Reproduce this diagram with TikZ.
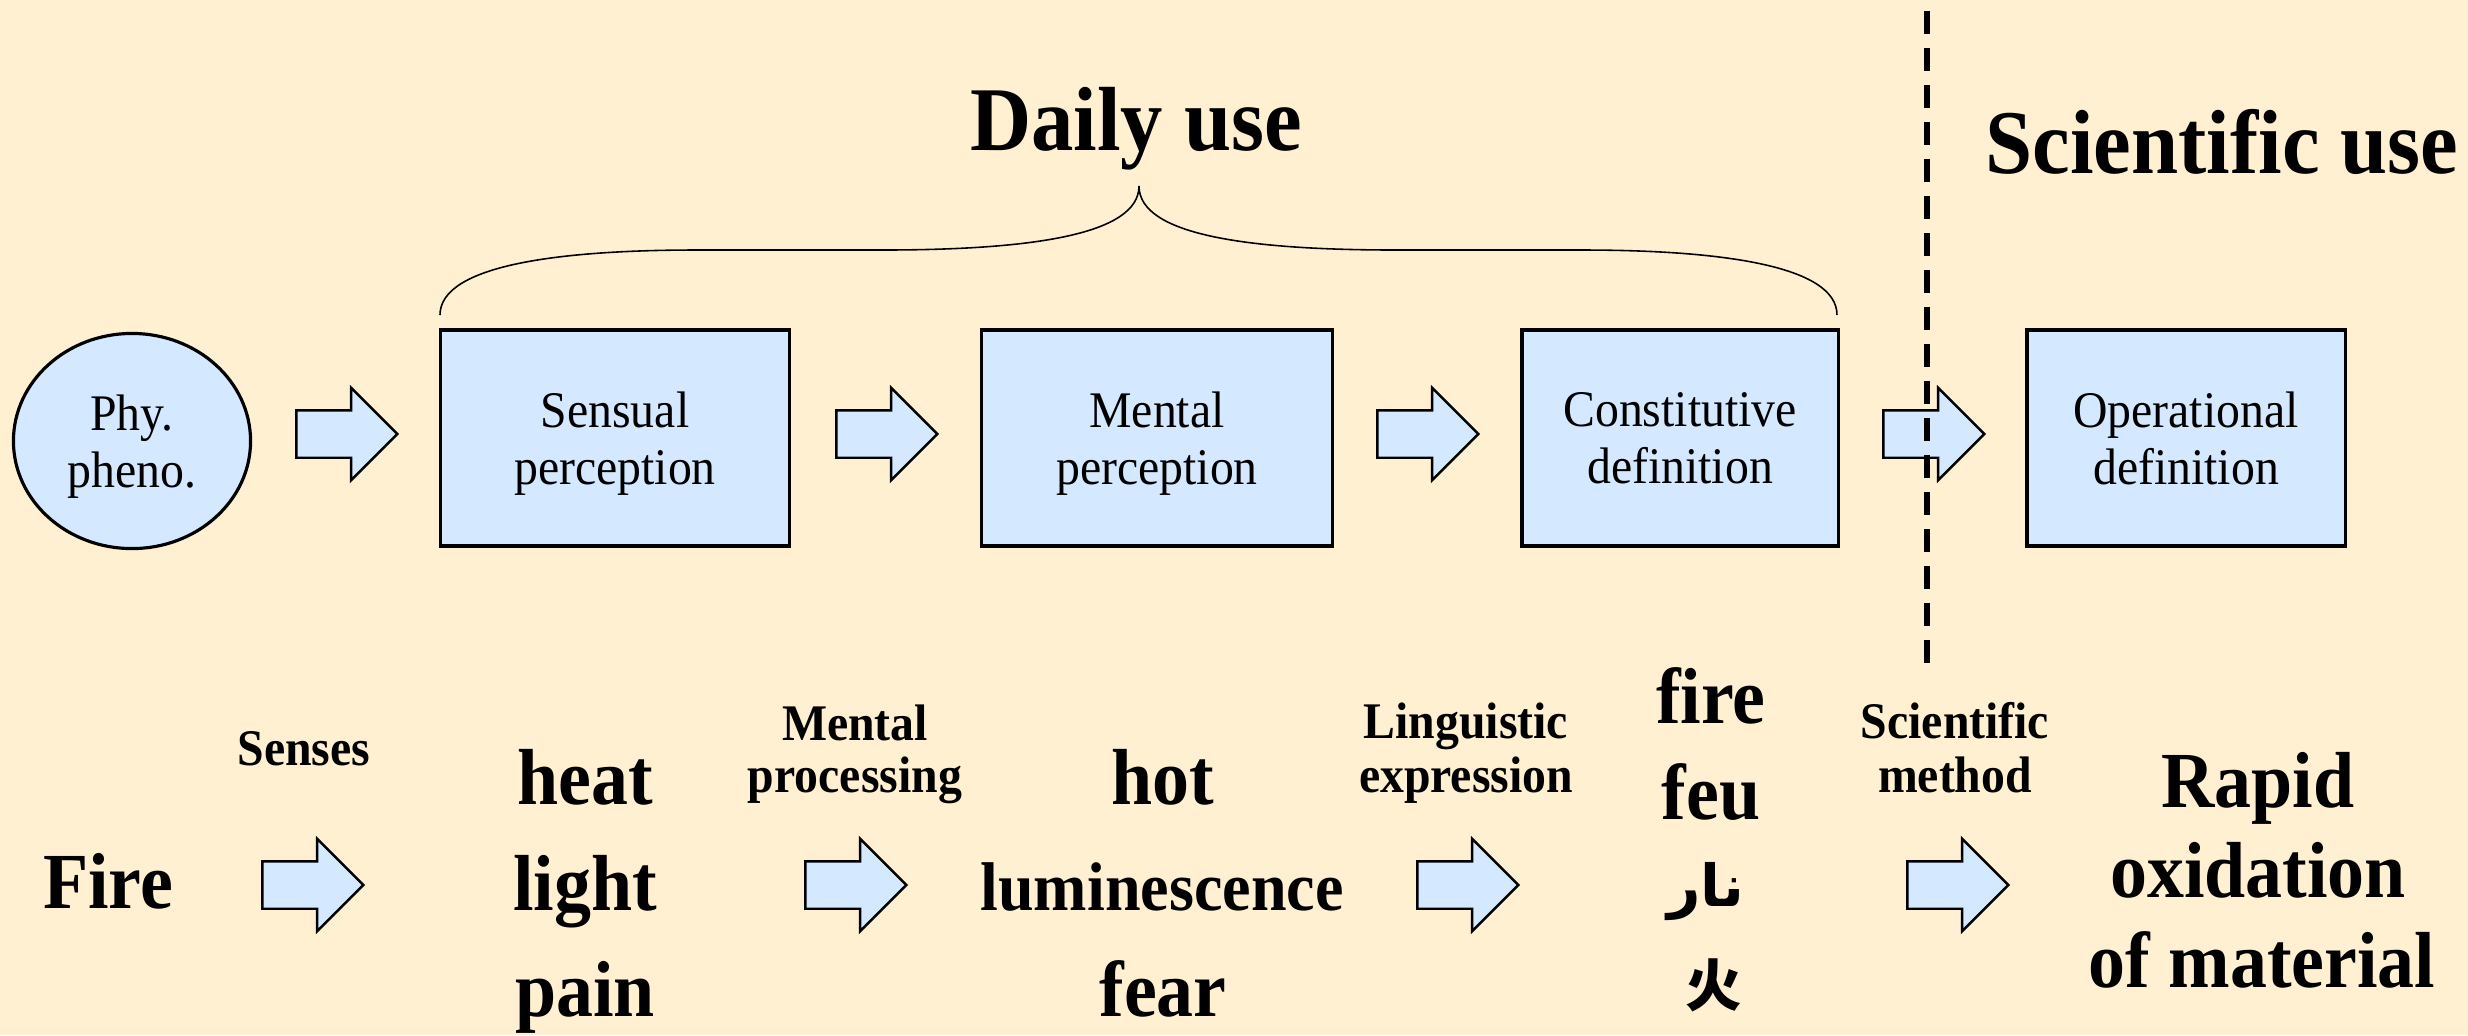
\documentclass[tikz,border=0pt]{standalone}
\usepackage{fontspec}
\setmainfont{Liberation Serif}[FakeStretch=0.93]
\newfontfamily\arabicfont[Script=Arabic]{DejaVu Sans}
\newfontfamily\cjkfont{Noto Sans CJK SC}
\TeXXeTstate=1
\usetikzlibrary{shapes.geometric,shapes.arrows}
\definecolor{bgcream}{RGB}{255,240,210}
\definecolor{boxblue}{RGB}{212,232,255}

\begin{document}
\begin{tikzpicture}
  [x=0.01cm,y=-0.01cm,every node/.style={inner sep=0pt},
   stage/.style={rectangle,draw,line width=0.9pt,fill=boxblue,minimum height=2.16cm,
     align=center,text depth=0pt,font=\fontsize{14.6}{16.2}\selectfont},
   fatarrow/.style={single arrow,draw,line width=0.7pt,fill=boxblue,inner xsep=0pt,inner ysep=0.225cm,
     minimum height=1.01cm,minimum width=0.9cm,single arrow head extend=0.225cm},
   heading/.style={anchor=base,font=\fontsize{25.9}{30}\selectfont\bfseries},
   label/.style={anchor=base,font=\fontsize{14.6}{15}\selectfont\bfseries},
   word/.style={anchor=base,font=\fontsize{22.6}{26}\selectfont\bfseries}]

  \path[use as bounding box,fill=bgcream] (0,0) rectangle (2468,1035);

  % top row
  \node (phen) [ellipse,draw,line width=0.9pt,fill=boxblue,minimum width=2.37cm,minimum height=2.15cm,
    align=center,text depth=0pt,font=\fontsize{14.6}{16.2}\selectfont] at (132,441) {Phy.\\pheno.};
  \node (sens) [stage,minimum width=3.49cm] at (615,438) {Sensual\\perception};
  \node (ment) [stage,minimum width=3.50cm] at (1157,438) {Mental\\perception};
  \node (cons) [stage,minimum width=3.16cm] at (1680,438) {Constitutive\\definition};
  \node (oper) [stage,minimum width=3.18cm] at (2186,438) {Operational\\definition};

  \foreach \n/\x in {a1/335,a2/875,a3/1416,a4/1922}
    \node (\n) [fatarrow] at (\x,434) {};

  \node (daily) [heading] at (1136,150) {Daily use};
  \node (sci) [heading] at (2222,173) {Scientific use};

  % brace over daily use
  \draw[line width=0.45pt] (440,315) .. controls (440,265) and (560,250) .. (697,250) -- (882,250)
    .. controls (1030,250) and (1139,235) .. (1139,186)
    .. controls (1139,235) and (1248,250) .. (1396,250) -- (1581,250)
    .. controls (1718,250) and (1837,265) .. (1837,315);

  % bottom row
  \node (fire) [word] at (108,908) {Fire};
  \node (heat) [word] at (585,804) {heat};
  \node (light) [word] at (585,910) {light};
  \node (pain) [word] at (585,1016) {pain};
  \node (hot) [word] at (1163,804) {hot};
  \node (lum) [word,font=\fontsize{19.6}{22}\selectfont\bfseries] at (1162,910) {luminescence};
  \node (fear) [word] at (1163,1016) {fear};
  \node (en) [word] at (1711,723) {fire};
  \node (fr) [word] at (1711,819) {feu};
  \node (ar) [font=\fontsize{16.5}{20}\selectfont\arabicfont\bfseries] at (1706,892) {\beginR نار\endR};
  \node (zh) [font=\fontsize{16}{18}\selectfont\cjkfont\bfseries] at (1714,985) {火};
  \node (rap1) [word] at (2258,807) {Rapid};
  \node (rap2) [word] at (2258,897) {oxidation};
  \node (rap3) [word] at (2262,987) {of material};

  \node (l1) [label] at (304,765) {Senses};
  \node (l2a) [label] at (855,740) {Mental};
  \node (l2b) [label] at (855,792) {processing};
  \node (l3a) [label] at (1466,738) {Linguistic};
  \node (l3b) [label] at (1466,792) {expression};
  \node (l4a) [label] at (1955,738) {Scientific};
  \node (l4b) [label] at (1955,792) {method};

  \foreach \n/\x in {b1/301,b2/844,b3/1456,b4/1946}
    \node (\n) [fatarrow] at (\x,885) {};

  % border between daily and scientific use
  \draw[line width=1.6pt,dash pattern=on 0.23cm off 0.14cm] (1927,11) -- (1927,663);

\end{tikzpicture}
\end{document}
